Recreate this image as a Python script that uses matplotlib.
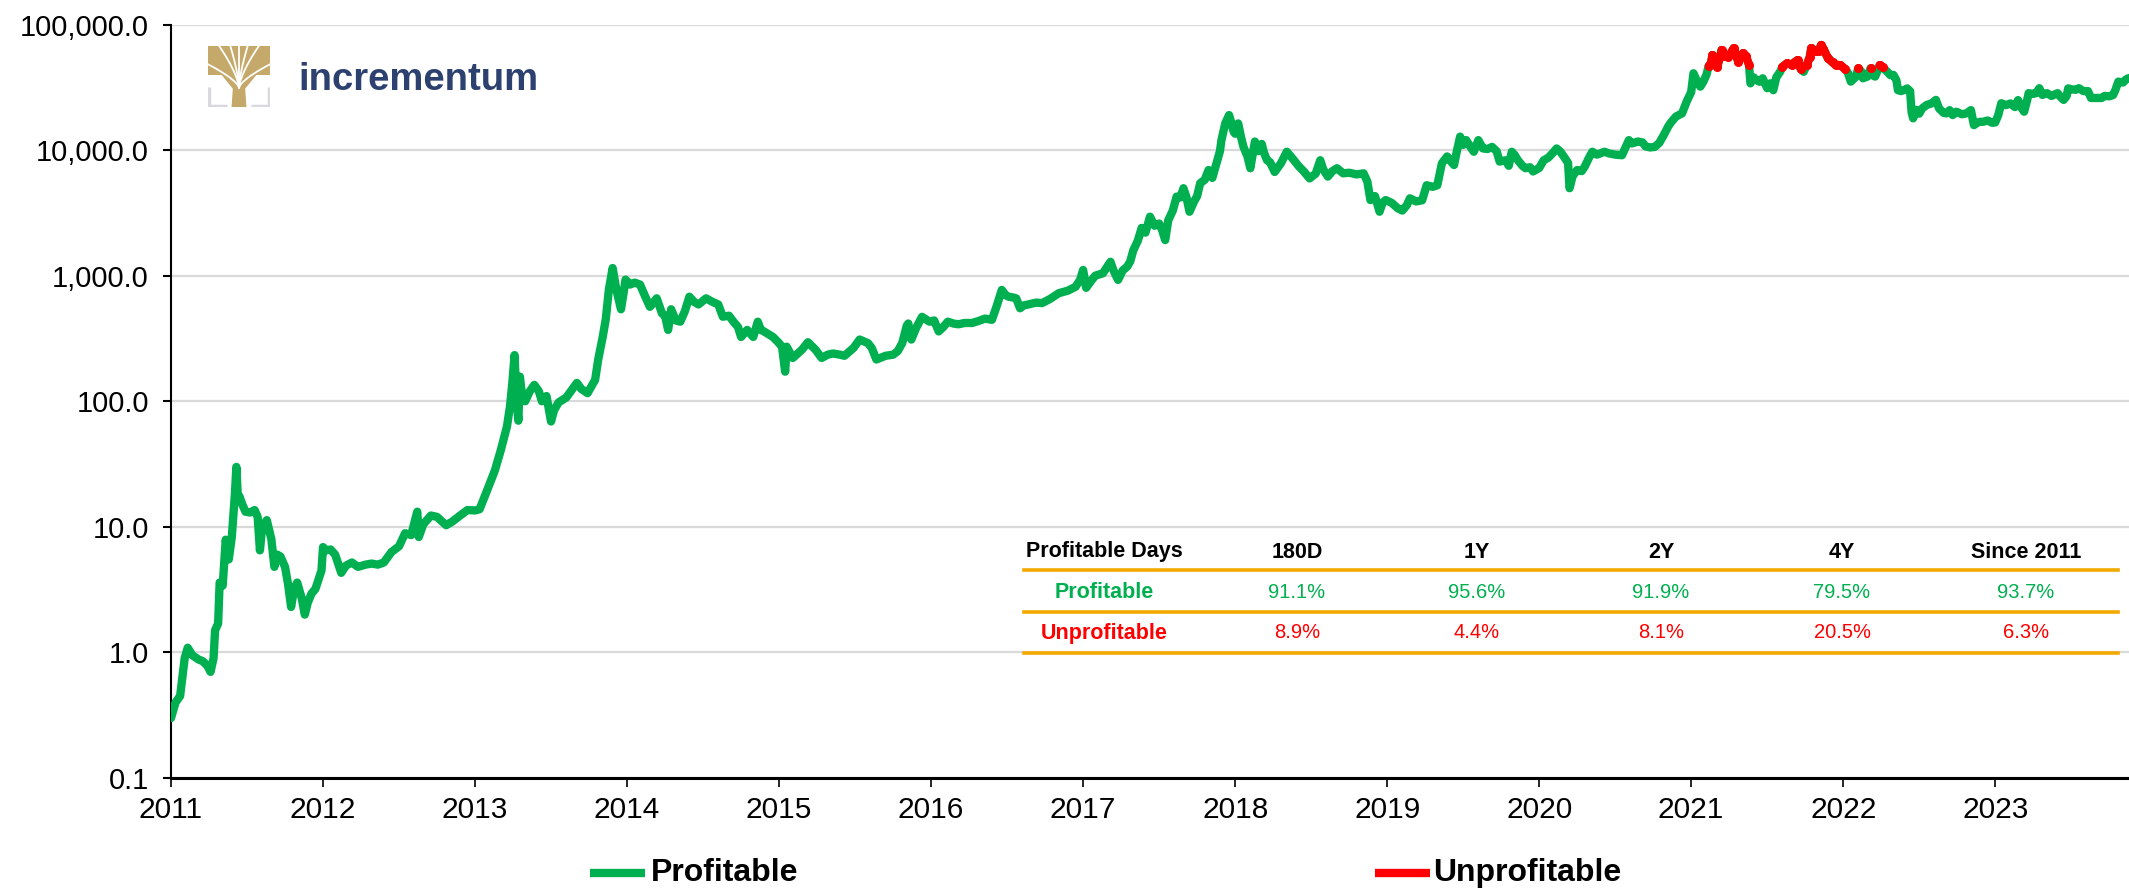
import matplotlib
matplotlib.use('Agg')
import matplotlib.pyplot as plt
import numpy as np
from matplotlib.lines import Line2D
from matplotlib.patches import Polygon, Rectangle
from matplotlib.ticker import FuncFormatter, FixedLocator, NullLocator

plt.rcParams['font.family'] = ['Liberation Sans', 'DejaVu Sans']

# ---------------- data ----------------
years = [
    2011.00, 2011.03, 2011.06, 2011.09, 2011.11, 2011.14, 2011.18, 2011.21, 2011.24, 2011.26,
    2011.28, 2011.29, 2011.31, 2011.32, 2011.34, 2011.36, 2011.38, 2011.40, 2011.42, 2011.43,
    2011.44, 2011.45, 2011.47, 2011.49, 2011.52, 2011.55, 2011.57, 2011.585, 2011.60, 2011.63,
    2011.66, 2011.68, 2011.70, 2011.72, 2011.75, 2011.77, 2011.79, 2011.81, 2011.83, 2011.86,
    2011.88, 2011.90, 2011.925, 2011.95, 2011.97, 2011.99,
    2012.00, 2012.02, 2012.05, 2012.08, 2012.12, 2012.15, 2012.19, 2012.23, 2012.28, 2012.32,
    2012.36, 2012.40, 2012.45, 2012.50, 2012.54, 2012.58, 2012.62, 2012.63, 2012.66, 2012.71,
    2012.75, 2012.81, 2012.85, 2012.89, 2012.95,
    2013.00, 2013.03, 2013.08, 2013.13, 2013.17, 2013.21, 2013.23, 2013.245, 2013.26, 2013.27,
    2013.285, 2013.295, 2013.31, 2013.33, 2013.36, 2013.39, 2013.42, 2013.44, 2013.47, 2013.50,
    2013.52, 2013.55, 2013.60, 2013.63, 2013.67, 2013.70, 2013.74, 2013.79, 2013.81, 2013.84,
    2013.86, 2013.88, 2013.905, 2013.92, 2013.93, 2013.96, 2013.975, 2013.99,
    2014.02, 2014.05, 2014.085, 2014.12, 2014.15, 2014.195, 2014.23, 2014.25, 2014.27, 2014.29,
    2014.32, 2014.35, 2014.38, 2014.41, 2014.44, 2014.47, 2014.52, 2014.56, 2014.60, 2014.63,
    2014.67, 2014.70, 2014.73, 2014.75, 2014.79, 2014.83, 2014.86, 2014.88, 2014.90, 2014.96,
    2015.00, 2015.02, 2015.04, 2015.05, 2015.09, 2015.15, 2015.19, 2015.24, 2015.28, 2015.32,
    2015.355, 2015.40, 2015.43, 2015.49, 2015.53, 2015.585, 2015.61, 2015.64, 2015.70, 2015.75,
    2015.78, 2015.81, 2015.84, 2015.85, 2015.87, 2015.90, 2015.94, 2015.99,
    2016.02, 2016.05, 2016.08, 2016.11, 2016.15, 2016.18, 2016.22, 2016.27, 2016.31, 2016.355,
    2016.40, 2016.43, 2016.465, 2016.49, 2016.51, 2016.54, 2016.56, 2016.585, 2016.61, 2016.64,
    2016.69, 2016.73, 2016.78, 2016.84, 2016.90, 2016.95, 2016.98,
    2017.00, 2017.02, 2017.05, 2017.08, 2017.13, 2017.18, 2017.20, 2017.23, 2017.26, 2017.29,
    2017.31, 2017.33, 2017.36, 2017.385, 2017.41, 2017.44, 2017.47, 2017.50, 2017.52, 2017.54,
    2017.56, 2017.59, 2017.615, 2017.64, 2017.66, 2017.68, 2017.70, 2017.73, 2017.75, 2017.77,
    2017.80, 2017.825, 2017.85, 2017.88, 2017.90, 2017.91, 2017.935, 2017.96, 2017.975, 2017.99,
    2018.00, 2018.02, 2018.04, 2018.055, 2018.08, 2018.10, 2018.13, 2018.15, 2018.175, 2018.19,
    2018.21, 2018.23, 2018.26, 2018.30, 2018.34, 2018.38, 2018.42, 2018.45, 2018.49, 2018.53,
    2018.56, 2018.58, 2018.61, 2018.64, 2018.67, 2018.71, 2018.75, 2018.80, 2018.845, 2018.87,
    2018.89, 2018.92, 2018.95, 2018.97, 2018.99,
    2019.03, 2019.07, 2019.10, 2019.13, 2019.15, 2019.19, 2019.23, 2019.26, 2019.30, 2019.33,
    2019.36, 2019.395, 2019.42, 2019.44, 2019.46, 2019.48, 2019.50, 2019.52, 2019.55, 2019.57,
    2019.60, 2019.63, 2019.66, 2019.69, 2019.72, 2019.74, 2019.78, 2019.80, 2019.82, 2019.84,
    2019.86, 2019.89, 2019.91, 2019.94, 2019.96,
    2020.00, 2020.03, 2020.06, 2020.09, 2020.115, 2020.14, 2020.17, 2020.19, 2020.20, 2020.22,
    2020.25, 2020.28, 2020.30, 2020.33, 2020.35, 2020.38, 2020.41, 2020.43, 2020.46, 2020.50,
    2020.545, 2020.56, 2020.59, 2020.61, 2020.65, 2020.68, 2020.70, 2020.73, 2020.76, 2020.79,
    2020.82, 2020.85, 2020.87, 2020.90, 2020.94, 2020.97,
    2021.00, 2021.015, 2021.04, 2021.06, 2021.08, 2021.10, 2021.115, 2021.13, 2021.14, 2021.17,
    2021.19, 2021.20, 2021.22, 2021.245, 2021.26, 2021.28, 2021.30, 2021.31, 2021.34, 2021.36,
    2021.38, 2021.39, 2021.41, 2021.43, 2021.45, 2021.47, 2021.50, 2021.52, 2021.54, 2021.56,
    2021.585, 2021.60, 2021.63, 2021.66, 2021.68, 2021.70, 2021.72, 2021.74, 2021.76, 2021.78,
    2021.79, 2021.82, 2021.84, 2021.855, 2021.87, 2021.90, 2021.93, 2021.95, 2021.98,
    2022.01, 2022.03, 2022.05, 2022.08, 2022.10, 2022.12, 2022.13, 2022.16, 2022.18, 2022.20,
    2022.21, 2022.23, 2022.24, 2022.26, 2022.29, 2022.31, 2022.33, 2022.35, 2022.36, 2022.38,
    2022.40, 2022.42, 2022.44, 2022.45, 2022.46, 2022.48, 2022.50, 2022.52, 2022.55, 2022.58,
    2022.61, 2022.63, 2022.66, 2022.68, 2022.70, 2022.72, 2022.745, 2022.78, 2022.81, 2022.84,
    2022.86, 2022.88, 2022.90, 2022.92, 2022.95, 2022.98,
    2023.00, 2023.02, 2023.04, 2023.07, 2023.10, 2023.13, 2023.15, 2023.17, 2023.19, 2023.21,
    2023.22, 2023.25, 2023.27, 2023.29, 2023.31, 2023.34, 2023.37, 2023.41, 2023.43, 2023.45,
    2023.47, 2023.48, 2023.50, 2023.53, 2023.55, 2023.58, 2023.61, 2023.63, 2023.66, 2023.70,
    2023.72, 2023.75, 2023.775, 2023.79, 2023.81, 2023.84, 2023.86, 2023.88,
]

price = [
    0.30, 0.40, 0.45, 0.90, 1.09, 0.95, 0.88, 0.85, 0.78, 0.70,
    0.90, 1.5, 1.7, 3.6, 3.4, 7.9, 5.5, 8.3, 18, 30,
    17, 17.5, 15, 13.2, 13, 13.6, 12, 6.5, 10, 11.3,
    8, 4.8, 6, 5.8, 4.8, 3.5, 2.3, 3.2, 3.6, 2.7,
    2.0, 2.5, 2.95, 3.2, 3.8, 4.5,
    6.9, 6.5, 6.6, 6.0, 4.3, 4.9, 5.2, 4.8, 5.0, 5.1,
    5.0, 5.2, 6.3, 7.0, 8.9, 8.6, 13.2, 8.3, 10.5, 12.3,
    12.0, 10.3, 11.0, 12.0, 13.6,
    13.5, 13.8, 19.6, 28, 41, 63, 91, 139, 233, 120,
    70, 157, 110, 100, 120, 135, 120, 100, 110, 69,
    85, 98, 107, 120, 140, 125, 116, 148, 214, 326,
    450, 768, 1150, 900, 770, 540, 700, 930,
    850, 880, 850, 680, 565, 660, 500, 480, 370, 540,
    440, 430, 520, 680, 620, 590, 660, 620, 590, 471,
    480, 430, 390, 325, 370, 325, 430, 370, 360, 325,
    290, 270, 172, 272, 221, 257, 295, 257, 221, 235,
    240, 235, 230, 266, 310, 290, 265, 215, 230, 235,
    250, 290, 400, 416, 310, 380, 470, 430,
    440, 360, 390, 430, 415, 410, 420, 420, 435, 455,
    445, 565, 770, 700, 680, 670, 660, 550, 580, 590,
    610, 605, 650, 725, 760, 815, 925,
    1110, 800, 900, 1000, 1045, 1290, 1100, 925, 1100, 1180,
    1300, 1590, 1900, 2400, 2200, 2950, 2500, 2600, 2300, 1920,
    2760, 3300, 4260, 4200, 4970, 4200, 3230, 3900, 4300, 5450,
    5800, 6940, 6000, 8070, 9800, 12000, 16300, 19000, 16500, 14000,
    13500, 16300, 12500, 10600, 9000, 7170, 11700, 9800, 11200, 9500,
    8300, 8000, 6700, 7800, 9700, 8500, 7400, 6800, 5950, 6500,
    8300, 7000, 6150, 6800, 7170, 6530, 6600, 6400, 6530, 5600,
    4000, 4300, 3230, 3800, 4000,
    3800, 3440, 3300, 3650, 4130, 3900, 3980, 5250, 5100, 5250,
    7850, 8900, 8100, 7600, 10000, 12800, 11000, 12000, 10500, 9700,
    12000, 10300, 10200, 10600, 9800, 8100, 8300, 7500, 9700, 9100,
    8300, 7500, 7170, 7300, 6760,
    7200, 8300, 8700, 9500, 10300, 9700, 8600, 7900, 4970, 6200,
    6940, 6800, 7400, 8800, 9700, 9200, 9500, 9700, 9400, 9200,
    9100, 10000, 12000, 11300, 11700, 11500, 10700, 10500, 10600, 11400,
    13200, 15500, 16800, 18500, 19600, 24300,
    29000, 40900, 35000, 32000, 35000, 39700, 46500, 49000, 57100, 46000,
    55000, 62600, 56000, 55500, 59000, 64800, 55000, 50600, 59000, 56000,
    48000, 34000, 38000, 36000, 35000, 37300, 31100, 34000, 30000, 38000,
    42000, 46000, 49000, 48000, 50000, 52100, 44500, 42000, 47500, 55000,
    64800, 61000, 62000, 68700, 64000, 53800, 50000, 47600, 47500,
    44500, 41500, 35100, 38000, 44800, 42000, 37300, 38500, 44800, 39000,
    38500, 44000, 47500, 45500, 42000, 39500, 39700, 36000, 30000, 29500,
    30000, 31000, 29500, 20000, 17900, 20900, 19500, 21500, 22900, 23500,
    25100, 21500, 19800, 19600, 20800, 19000, 20200, 19300, 19600, 20800,
    15800, 16500, 16800, 16800, 17200, 16500,
    16600, 19000, 23600, 22800, 23500, 22000, 25000, 22000, 20200, 25000,
    28400, 28000, 28500, 31100, 27500, 28400, 27000, 28400, 26500, 25100,
    27000, 31000, 30500, 30200, 31100, 29500, 29500, 26000, 26000, 26000,
    27000, 26800, 27400, 30000, 35100, 34500, 36500, 37500,
]

unprofitable_above = 44000          # price level above which a buy day is unprofitable

year_ticks = list(range(2011, 2024))
value_ticks = [0.1, 1, 10, 100, 1000, 10000, 100000]

table_header = ['Profitable Days', '180D', '1Y', '2Y', '4Y', 'Since 2011']
profitable_pct = ['91.1%', '95.6%', '91.9%', '79.5%', '93.7%']
unprofitable_pct = ['8.9%', '4.4%', '8.1%', '20.5%', '6.3%']

legend_labels = ['Profitable', 'Unprofitable']

# ---------------- styling ----------------
GREEN = '#00B050'
RED = '#FF0000'
ORANGE = '#F2A900'
GRID = '#D9D9D9'
W, H = 2129, 890

fig = plt.figure(figsize=(W / 100, H / 100), dpi=100)
ax = fig.add_axes([171 / W, (H - 778) / H, (W - 171) / W, (778 - 24.5) / H])

x = np.array(years)
p = np.array(price, dtype=float)
red = np.where(p > unprofitable_above, p, np.nan)

ax.plot(x, p, color=GREEN, lw=6.0, solid_joinstyle='round', solid_capstyle='round', zorder=3)
ax.plot(x, red, color=RED, lw=6.0, solid_joinstyle='round', solid_capstyle='round',
        marker='o', ms=5.5, mec=RED, mfc=RED, zorder=4)

ax.set_yscale('log')
ax.set_ylim(0.1, 100000)
ax.set_xlim(2011, 2023.88)
ax.yaxis.set_major_locator(FixedLocator(value_ticks))
ax.yaxis.set_minor_locator(NullLocator())
ax.yaxis.set_major_formatter(FuncFormatter(lambda v, pos: f'{v:,.1f}'))
ax.set_xticks(year_ticks)
ax.set_xticklabels([str(y) for y in year_ticks])

ax.grid(axis='y', color=GRID, lw=1.6)
ax.set_axisbelow(True)
for s in ['top', 'right']:
    ax.spines[s].set_visible(False)
ax.spines['left'].set_linewidth(1.5)
ax.spines['bottom'].set_linewidth(2.2)
ax.tick_params(axis='y', direction='out', length=6.0, width=1.5, pad=10, labelsize=21)
ax.tick_params(axis='x', direction='out', length=6.3, width=1.2, pad=7, labelsize=21.5)

# ---------------- logo ----------------
gold = '#C5A96B'
grey = '#D8D8DE'
iax = fig.add_axes([208 / W, (H - 107) / H, 62 / W, 61 / H])
iax.set_xlim(0, 1)
iax.set_ylim(0, 1)
iax.axis('off')
iax.plot([0.02, 0.02, 0.3], [0.32, 0.02, 0.02], color=grey, lw=2.5, solid_capstyle='butt')
iax.plot([0.98, 0.98, 0.7], [0.32, 0.02, 0.02], color=grey, lw=2.5, solid_capstyle='butt')
iax.add_patch(Polygon([[0.38, 0.0], [0.62, 0.0], [0.60, 0.30], [0.80, 0.55],
                       [0.20, 0.55], [0.40, 0.30]], closed=True, color=gold, lw=0))
iax.add_patch(Rectangle((0, 0.52), 1, 0.48, color=gold, lw=0))
for (xe, ye) in [(0.0, 0.70), (0.18, 1.0), (0.36, 1.0), (0.50, 1.0), (0.64, 1.0), (0.82, 1.0), (1.0, 0.70)]:
    xs = np.linspace(0.5, xe, 20)
    ys = 0.32 + (ye - 0.32) * np.linspace(0, 1, 20) ** 0.7
    iax.plot(xs, ys, color='white', lw=1.3)
fig.text(298 / W, (H - 90) / H, 'incrementum', fontsize=27.5, fontweight='bold',
         color='#2D4170', ha='left', va='baseline')

# ---------------- table ----------------
col_x = [1104, 1297, 1477, 1661, 1842, 2026]
row_y = [552, 592, 633]
line_y = [570, 612, 653]
for ly in line_y:
    fig.add_artist(Line2D([1024 / W, 2118 / W], [(H - ly) / H] * 2, color=ORANGE, lw=2.6))
for cx, t in zip(col_x, table_header):
    fig.text(cx / W, (H - row_y[0]) / H, t, fontsize=15.5, fontweight='bold',
             color='black', ha='center', va='center')
fig.text(col_x[0] / W, (H - row_y[1]) / H, legend_labels[0], fontsize=15.5, fontweight='bold',
         color=GREEN, ha='center', va='center')
fig.text(col_x[0] / W, (H - row_y[2]) / H, legend_labels[1], fontsize=15.5, fontweight='bold',
         color=RED, ha='center', va='center')
for cx, a, b in zip(col_x[1:], profitable_pct, unprofitable_pct):
    fig.text(cx / W, (H - row_y[1]) / H, a, fontsize=14.5, color=GREEN, ha='center', va='center')
    fig.text(cx / W, (H - row_y[2]) / H, b, fontsize=14.5, color=RED, ha='center', va='center')

# ---------------- legend ----------------
ly = (H - 873) / H
for (x0, x1, xt), col, lab in [((590, 645, 651), GREEN, legend_labels[0]),
                               ((1375, 1430, 1433), RED, legend_labels[1])]:
    fig.add_artist(Line2D([x0 / W, x1 / W], [ly, ly], color=col, lw=6.0, solid_capstyle='butt'))
    fig.text(xt / W, ly, lab, fontsize=23, fontweight='bold', color='black', ha='left', va='center')

fig.savefig('out.png', dpi=100)
